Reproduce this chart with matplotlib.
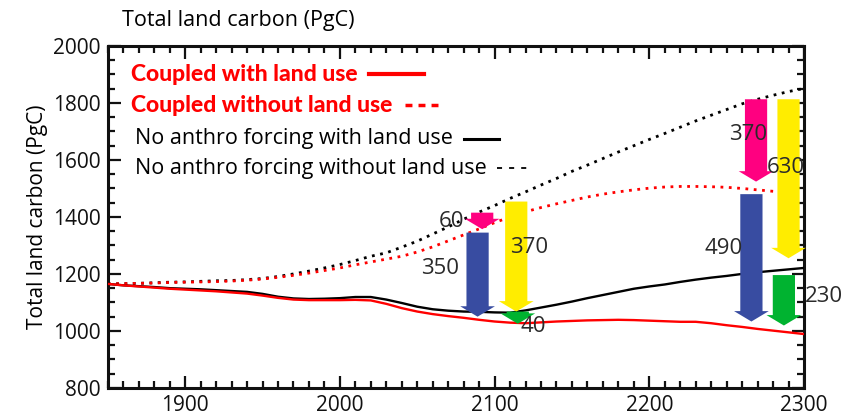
import matplotlib
matplotlib.use("Agg")
import matplotlib.pyplot as plt
from matplotlib.ticker import MultipleLocator
from matplotlib.lines import Line2D

plt.rcParams['font.family'] = ['Open Sans', 'DejaVu Sans']

# years every 10 from 1850 to 2300
years = list(range(1850, 2301, 10))

# Coupled with land use (red solid)
coupled_lu = [1165, 1160, 1156, 1152, 1148, 1145, 1142, 1139, 1135, 1131,
              1124, 1116, 1110, 1108, 1108, 1108, 1109, 1107, 1095, 1080,
              1068, 1059, 1052, 1046, 1039, 1033, 1029, 1027, 1030, 1033,
              1035, 1037, 1038, 1039, 1038, 1036, 1034, 1032, 1032, 1027,
              1020, 1014, 1007, 1001, 995, 989]

# Coupled without land use (red dotted)
coupled_nolu = [1165, 1166, 1167, 1168, 1170, 1171, 1172, 1173, 1175, 1178,
                1182, 1188, 1195, 1203, 1212, 1221, 1232, 1242, 1252, 1262,
                1277, 1295, 1316, 1337, 1358, 1380, 1400, 1418, 1433, 1446,
                1458, 1470, 1480, 1488, 1495, 1501, 1505, 1507, 1507, 1506,
                1504, 1500, 1495, 1490, 1486, 1483]

# No anthro forcing with land use (black solid)
noanth_lu = [1165, 1160, 1157, 1154, 1150, 1148, 1146, 1143, 1140, 1137,
             1130, 1120, 1114, 1112, 1113, 1115, 1119, 1119, 1110, 1098,
             1085, 1076, 1071, 1068, 1067, 1065, 1064, 1072, 1082, 1092,
             1103, 1115, 1126, 1137, 1148, 1156, 1163, 1172, 1180, 1187,
             1193, 1200, 1206, 1211, 1216, 1221]

# No anthro forcing without land use (black dotted)
noanth_nolu = [1165, 1166, 1167, 1169, 1171, 1172, 1174, 1176, 1177, 1180,
               1184, 1191, 1200, 1210, 1221, 1233, 1247, 1262, 1274, 1294,
               1315, 1340, 1365, 1392, 1417, 1440, 1465, 1488, 1512, 1535,
               1560, 1582, 1605, 1628, 1650, 1672, 1693, 1715, 1737, 1757,
               1777, 1797, 1813, 1827, 1840, 1851]

# arrows: x position, top, bottom, colour
arrow_x = [2092, 2089, 2114, 2115, 2269, 2290, 2266, 2287]
arrow_top = [1415, 1345, 1454, 1068, 1813, 1813, 1480, 1196]
arrow_bot = [1357, 1050, 1068, 1025, 1524, 1255, 1033, 1019]
arrow_col = ['#ff0080', '#384ca1', '#ffed00', '#00b330',
             '#ff0080', '#ffed00', '#384ca1', '#00b330']

# numbers beside arrows
lab_text = ['60', '350', '370', '40', '370', '630', '490', '230']
lab_x = [2072, 2065, 2122, 2125, 2264, 2288, 2248, 2313]
lab_y = [1384, 1220, 1294, 1015, 1688, 1574, 1290, 1120]

fig = plt.figure(figsize=(8.49, 4.18), dpi=100)
ax = fig.add_axes([0.127, 0.072, 0.820, 0.818])

ax.plot(years, noanth_nolu, color='black', lw=2.0, ls=(0, (1, 2.0)), zorder=2)
ax.plot(years, coupled_nolu, color='red', lw=2.0, ls=(0, (1, 2.0)), zorder=2)
ax.plot(years, noanth_lu, color='black', lw=1.7, zorder=3)
ax.plot(years, coupled_lu, color='red', lw=1.7, zorder=3)

for x, t, b, c in zip(arrow_x, arrow_top, arrow_bot, arrow_col):
    ax.annotate('', xy=(x, b), xytext=(x, t),
                arrowprops=dict(arrowstyle='simple,head_width=2.5,head_length=0.75,tail_width=1.6',
                                mutation_scale=10, color=c, shrinkA=0, shrinkB=0, lw=0),
                zorder=4)

for s, x, y in zip(lab_text, lab_x, lab_y):
    ax.text(x, y, s, fontsize=16, color='#2a2a2a', ha='center', va='center',
            zorder=5, clip_on=False)

ax.set_xlim(1850, 2300)
ax.set_ylim(800, 2000)
ax.xaxis.set_major_locator(MultipleLocator(100))
ax.xaxis.set_minor_locator(MultipleLocator(10))
ax.yaxis.set_major_locator(MultipleLocator(200))
ax.yaxis.set_minor_locator(MultipleLocator(50))
ax.tick_params(which='both', direction='in', top=True, right=True,
               labelsize=15, width=1.6, colors='#111111', pad=5)
ax.tick_params(which='major', length=9)
ax.tick_params(which='minor', length=5)
for sp in ax.spines.values():
    sp.set_linewidth(2.2)
    sp.set_color('#111111')

ax.set_ylabel('Total land carbon (PgC)', fontsize=15, labelpad=4)
fig.text(0.144, 0.950, 'Total land carbon (PgC)', fontsize=15.5, va='center')

# legend drawn by hand, text first then line sample
bold = ['Lato', 'DejaVu Sans']
ax.text(0.033, 0.918, 'Coupled with land use', transform=ax.transAxes,
        color='red', fontsize=16.5, fontweight=900, family=bold, va='center')
ax.text(0.033, 0.827, 'Coupled without land use', transform=ax.transAxes,
        color='red', fontsize=16.5, fontweight=900, family=bold, va='center')
ax.text(0.039, 0.728, 'No anthro forcing with land use', transform=ax.transAxes,
        color='black', fontsize=15.5, va='center')
ax.text(0.039, 0.643, 'No anthro forcing without land use', transform=ax.transAxes,
        color='black', fontsize=15.5, va='center')
ax.add_line(Line2D([0.375, 0.454], [0.918, 0.918], transform=ax.transAxes,
                   color='red', lw=3))
ax.add_line(Line2D([0.427, 0.474], [0.827, 0.827], transform=ax.transAxes,
                   color='red', lw=2.5, ls=(0, (2.0, 1.75))))
ax.add_line(Line2D([0.511, 0.562], [0.728, 0.728], transform=ax.transAxes,
                   color='black', lw=2.2))
ax.add_line(Line2D([0.559, 0.603], [0.643, 0.643], transform=ax.transAxes,
                   color='black', lw=1.3, ls=(0, (2.8, 3.9))))

fig.savefig('out.png', dpi=100)
